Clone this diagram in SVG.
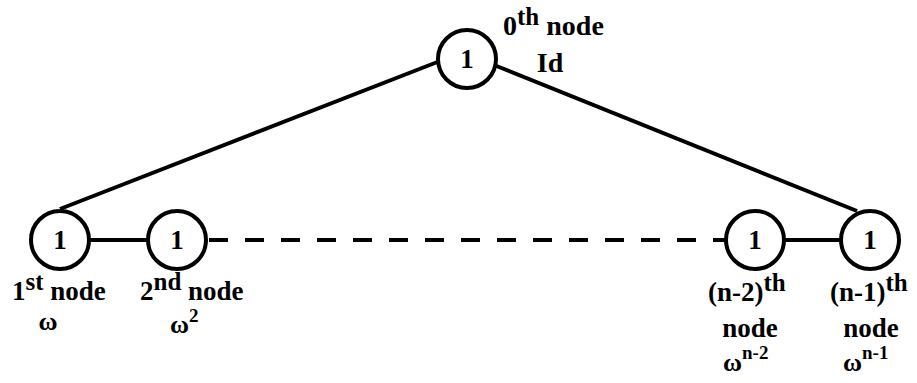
<svg xmlns="http://www.w3.org/2000/svg" width="917" height="383" viewBox="0 0 917 383">
<style>
  .edge { stroke: #000; stroke-width: 4; fill: none; }
  .dash { stroke-dasharray: 19 17; }
  .node circle { fill: #fff; stroke: #000; stroke-width: 4; }
  text { font-family: 'Liberation Serif', 'DejaVu Serif', 'Times New Roman', serif; font-weight: 700; fill: #000; }
  .in { font-size: 27px; text-anchor: middle; }
  .lbl { font-size: 27px; }
  .top { font-size: 28px; }
  .sup { font-size: 25px; }
  .om { font-size: 26px; }
  .osup { font-size: 19px; }
</style>
<rect width="917" height="383" fill="#fff"/>
<g id="connectors">
  <line class="edge" x1="60" y1="209" x2="440" y2="61"/>
  <line class="edge" x1="494" y1="65" x2="857" y2="211"/>
  <line class="edge" x1="90" y1="240" x2="148" y2="240"/>
  <line class="edge dash" x1="209" y1="240" x2="725" y2="240"/>
  <line class="edge" x1="785" y1="240" x2="840" y2="240"/>
</g>
<g id="node0" class="node">
  <circle cx="467" cy="59" r="29"/>
  <text class="in" x="467" y="68">1</text>
  <text class="top" x="503" y="35">0<tspan class="sup" dy="-10">th</tspan><tspan dy="10"> node</tspan></text>
  <text class="top" x="550" y="72" text-anchor="middle">Id</text>
</g>
<g id="node1" class="node">
  <circle cx="60" cy="240" r="29"/>
  <text class="in" x="60" y="249">1</text>
  <text class="lbl" x="12" y="300">1<tspan class="sup" dy="-10">st</tspan><tspan dy="10"> node</tspan></text>
  <text class="om" x="48" y="330" text-anchor="middle">ω</text>
</g>
<g id="node2" class="node">
  <circle cx="177" cy="240" r="29"/>
  <text class="in" x="177" y="249">1</text>
  <text class="lbl" x="140" y="300">2<tspan class="sup" dy="-10">nd</tspan><tspan dy="10"> node</tspan></text>
  <text class="om" x="170" y="333">ω<tspan class="osup" dy="-11">2</tspan></text>
</g>
<g id="nodeN2" class="node">
  <circle cx="755" cy="240" r="29"/>
  <text class="in" x="755" y="249">1</text>
  <text class="lbl" x="708" y="301">(n-2)<tspan class="sup" dy="-10">th</tspan></text>
  <text class="lbl" x="750" y="337" text-anchor="middle">node</text>
  <text class="om" x="723" y="371">ω<tspan class="osup" dy="-12">n-2</tspan></text>
</g>
<g id="nodeN1" class="node">
  <circle cx="870" cy="240" r="29"/>
  <text class="in" x="870" y="249">1</text>
  <text class="lbl" x="830" y="301">(n-1)<tspan class="sup" dy="-10">th</tspan></text>
  <text class="lbl" x="871" y="337" text-anchor="middle">node</text>
  <text class="om" x="843" y="371">ω<tspan class="osup" dy="-12">n-1</tspan></text>
</g>
</svg>
